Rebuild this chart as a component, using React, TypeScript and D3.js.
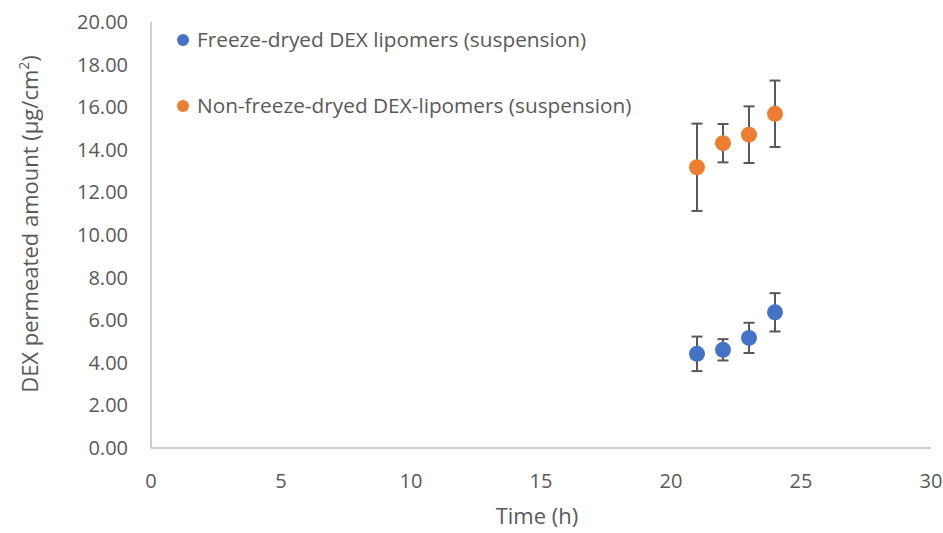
import React from "react";
import * as d3 from "d3";

// hours
const times = [21, 22, 23, 24];
// freeze-dried lipomers (suspension)
const freezeDried = [4.42, 4.61, 5.17, 6.37];
const freezeDriedErr = [0.81, 0.5, 0.71, 0.9];
// non freeze-dried lipomers (suspension)
const nonFreezeDried = [13.18, 14.31, 14.71, 15.69];
const nonFreezeDriedErr = [2.05, 0.9, 1.33, 1.56];

const xTicks = [0, 5, 10, 15, 20, 25, 30];
const yTicks = [0, 2, 4, 6, 8, 10, 12, 14, 16, 18, 20];

const seriesNames = [
  "Freeze-dryed DEX lipomers (suspension)",
  "Non-freeze-dryed DEX-lipomers (suspension)",
];
const colors = ["#4472c4", "#ed7d31"];

const width = 943;
const height = 533;
const marginLeft = 151;
const marginRight = 12;
const marginTop = 22;
const marginBottom = 85;

const font = "'Open Sans', 'Noto Sans', sans-serif";
const textColor = "#595959";

export default function App() {
  const x = d3.scaleLinear().domain([0, 30]).range([marginLeft, width - marginRight]);
  const y = d3.scaleLinear().domain([0, 20]).range([height - marginBottom, marginTop]);

  const series = [
    { vals: freezeDried, errs: freezeDriedErr },
    { vals: nonFreezeDried, errs: nonFreezeDriedErr },
  ];

  const capHalf = 5.5;

  return (
    <svg
      width={width}
      height={height}
      style={{ position: "absolute", left: 0, top: 0, background: "#fff" }}
      fontFamily={font}
    >
      {/* axes */}
      <line x1={x(0)} x2={x(0)} y1={y(20)} y2={y(0)} stroke="#bfbfbf" strokeWidth={1.5} />
      <line x1={x(0)} x2={x(30)} y1={y(0)} y2={y(0)} stroke="#bfbfbf" strokeWidth={1.5} />

      {yTicks.map((t) => (
        <text
          key={"y" + t}
          x={x(0) - 23}
          y={y(t)}
          dy="0.35em"
          textAnchor="end"
          fontSize={20}
          fill={textColor}
        >
          {t.toFixed(2)}
        </text>
      ))}
      {xTicks.map((t) => (
        <text
          key={"x" + t}
          x={x(t)}
          y={y(0) + 33}
          dy="0.35em"
          textAnchor="middle"
          fontSize={20}
          fill={textColor}
        >
          {t}
        </text>
      ))}

      {/* axis titles */}
      <text
        x={537}
        y={516}
        dy="0.35em"
        textAnchor="middle"
        fontSize={22}
        fill={textColor}
      >
        Time (h)
      </text>
      <text
        transform={`translate(30,224) rotate(-90)`}
        textAnchor="middle"
        dy="0.35em"
        fontSize={22}
        fill={textColor}
      >
        DEX permeated amount (μg/cm
        <tspan baselineShift="super" fontSize={14}>2</tspan>)
      </text>

      {/* error bars and points */}
      {series.map((s, si) => (
        <g key={si}>
          {times.map((t, i) => {
            const cx = x(t);
            const top = y(s.vals[i] + s.errs[i]);
            const bot = y(s.vals[i] - s.errs[i]);
            return (
              <g key={i} stroke="#595959" strokeWidth={2}>
                <line x1={cx} x2={cx} y1={top} y2={bot} />
                <line x1={cx - capHalf} x2={cx + capHalf} y1={top} y2={top} />
                <line x1={cx - capHalf} x2={cx + capHalf} y1={bot} y2={bot} />
              </g>
            );
          })}
          {times.map((t, i) => (
            <circle key={"c" + i} cx={x(t)} cy={y(s.vals[i])} r={8} fill={colors[si]} />
          ))}
        </g>
      ))}

      {/* legend */}
      {seriesNames.map((name, i) => (
        <g key={name} transform={`translate(183,${40 + i * 66})`}>
          <circle r={6} fill={colors[i]} />
          <text x={14} dy="0.35em" fontSize={20.8} fill={textColor}>
            {name}
          </text>
        </g>
      ))}
    </svg>
  );
}
